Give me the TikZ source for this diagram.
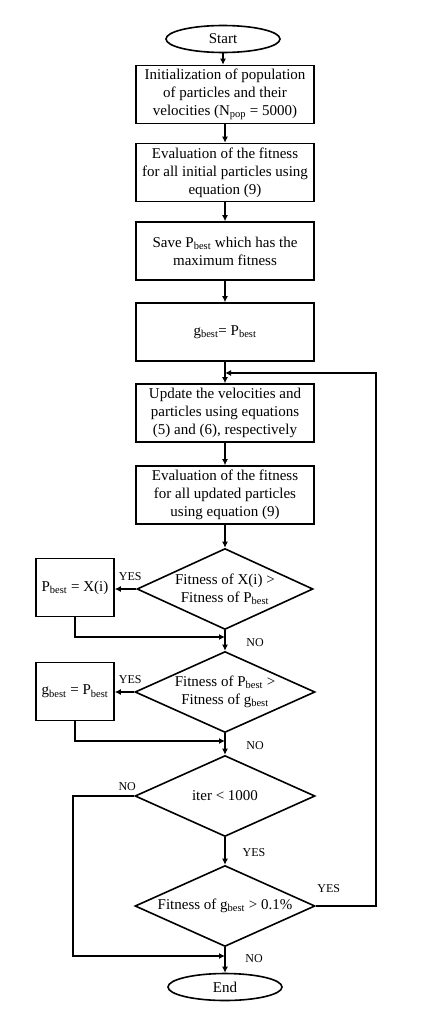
\documentclass[tikz,border=0pt]{standalone}
\usepackage{fontspec}
\setmainfont{Liberation Serif}
\usetikzlibrary{calc,shapes.geometric,arrows.meta}
\tikzset{>={Latex[length=6pt,width=6pt]}}
\tikzstyle{line}=[line width=1.6pt,black]
\tikzstyle{proc}=[draw,line width=1.6pt,minimum width=178pt,minimum height=58pt,align=center,inner sep=1pt,font=\fontsize{15}{18}\selectfont]
\tikzstyle{side}=[proc,minimum width=78pt]
\tikzstyle{term}=[draw,ellipse,line width=1.6pt,minimum width=114pt,minimum height=27pt,inner sep=0pt,font=\fontsize{15}{18}\selectfont]
\tikzstyle{test}=[draw,diamond,aspect=2.2,line width=1.6pt,minimum width=180pt,minimum height=81pt,inner sep=0pt,align=center,font=\fontsize{15}{18}\selectfont]
\tikzstyle{lbl}=[inner sep=0pt,font=\fontsize{12}{14}\selectfont]
\def\best{\textsubscript{best}}

\begin{document}
\begin{tikzpicture}[x=1pt,y=-1pt]
  \useasboundingbox (0,0) rectangle (435,1025);

  % MAIN COLUMN
  \node[term] (start) at (223,39) {Start};
  \node[proc] (init) at (225,94.5) {Initialization of population\\of particles and their\\velocities (N\textsubscript{pop} = 5000)};
  \node[proc] (eval1) at (225,172.5) {Evaluation of the fitness\\for all initial particles using\\equation (9)};
  \node[proc] (save) at (225,251) {Save P\best{} which has the\\maximum fitness};
  \node[proc] (gbest) at (225,332) {g\best= P\best};
  \node[proc] (update) at (225,413) {Update the velocities and\\particles using equations\\(5) and (6), respectively};
  \node[proc] (eval2) at (225,495) {Evaluation of the fitness\\for all updated particles\\using equation (9)};

  % DECISIONS
  \node[test,minimum width=176pt] (fitx) at (225,589) {Fitness of X(i) >\\Fitness of P\best};
  \node[test] (fitp) at (225,692) {Fitness of P\best{} >\\Fitness of g\best};
  \node[test] (iter) at (225,796) {iter < 1000};
  \node[test] (fitg) at (225,906) {Fitness of g\best{} > 0.1\%};
  \node[term] (end) at (225,987) {End};

  % SIDE BOXES
  \node[side] (setp) at (75,587.5) {P\best{} = X(i)};
  \node[side] (setg) at (75,691.5) {g\best{} = P\best};

  \coordinate (m1) at (225,637);
  \coordinate (m2) at (225,741);
  \coordinate (m3) at (225,956);
  \coordinate (c3) at (73,796);
  \coordinate (loop) at (376,906);
  \coordinate (j0) at (225,373);

  % CONNECTORS
  \draw[line,->] (start) -- (start |- init.north);
  \draw[line,->] (init) -- (eval1);
  \draw[line,->] (eval1) -- (save);
  \draw[line,->] (save) -- (gbest);
  \draw[line,->] (gbest) -- (update);
  \draw[line,->] (update) -- (eval2);
  \draw[line,->] (eval2) -- (fitx);
  \draw[line,->] (fitx.west) -- (fitx.west -| setp.east);
  \draw[line,->] (fitx) -- (fitp);
  \draw[line,->] (setp) |- (m1);
  \draw[line,->] (fitp.west) -- (fitp.west -| setg.east);
  \draw[line,->] (fitp) -- (iter);
  \draw[line,->] (setg) |- (m2);
  \draw[line,->] (iter) -- (fitg);
  \draw[line,->] (fitg) -- (end);
  \draw[line,->] (iter.west) -- (c3) |- (m3);
  \draw[line,->] (fitg.east) -- (loop) |- (j0);

  % LABELS
  \node[lbl] (y1) at ($(fitx.west)+(-6,-12)$) {YES};
  \node[lbl] (n1) at ($(fitx.south)+(30,12)$) {NO};
  \node[lbl] (y2) at ($(fitp.west)+(-4,-12)$) {YES};
  \node[lbl] (n2) at ($(fitp.south)+(30,12)$) {NO};
  \node[lbl] (n3) at ($(iter.west)+(-7,-9)$) {NO};
  \node[lbl] (y3) at ($(iter.south)+(29,15)$) {YES};
  \node[lbl] (y4) at ($(fitg.east)+(13,-17)$) {YES};
  \node[lbl] (n4) at ($(fitg.south)+(29,11)$) {NO};
\end{tikzpicture}
\end{document}
